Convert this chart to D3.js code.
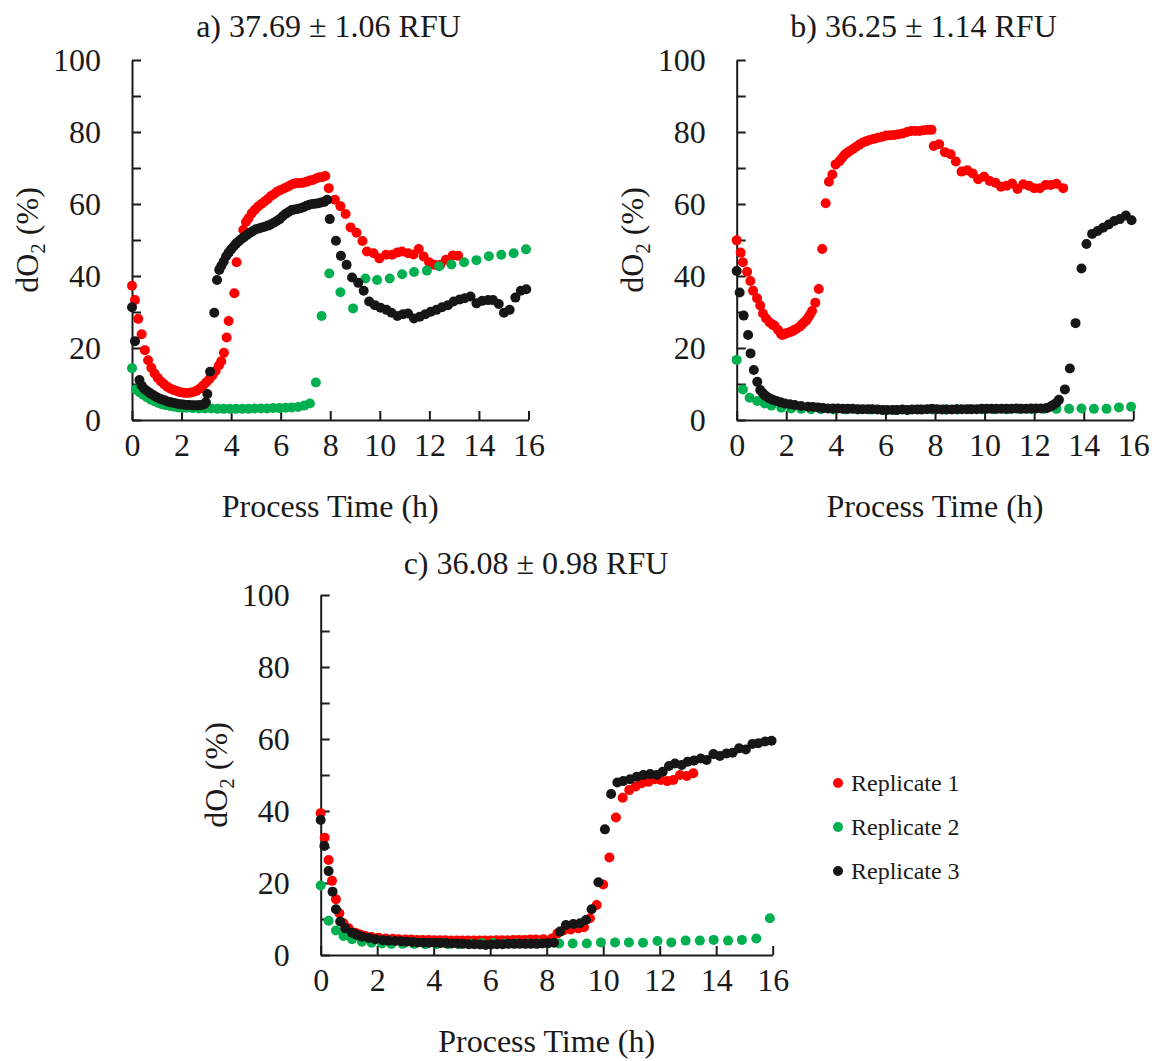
<!DOCTYPE html>
<html>
<head>
<meta charset="utf-8">
<script src="https://cdn.jsdelivr.net/npm/d3@7"></script>
<style>
body { margin: 0; background: #fff; }
text { font-family: "Liberation Serif", "Times New Roman", serif; fill: #1a1a1a; }
</style>
</head>
<body>
<svg id="chart" width="1158" height="1061"></svg>
<script>
// series names / colours
var seriesNames = ["Replicate 1", "Replicate 2", "Replicate 3"];
var seriesColors = ["#ff0000", "#00b050", "#161616"];
var panelTitles = ["a) 37.69 \u00b1 1.06 RFU", "b) 36.25 \u00b1 1.14 RFU", "c) 36.08 \u00b1 0.98 RFU"];
var xTicks = [0, 2, 4, 6, 8, 10, 12, 14, 16];
var yTicks = [0, 10, 20, 30, 40, 50, 60, 70, 80, 90, 100];

// panel a  [time h, dO2 %]
var aRep1 = [[0,37.3],[0.12,33.3],[0.25,28.1],[0.39,23.8],[0.52,19.4],[0.65,16.6],[0.78,14.5],[0.91,12.9],[1.04,11.7],[1.17,10.7],[1.3,9.9],[1.43,9.2],[1.56,8.7],[1.69,8.3],[1.82,8.0],[1.95,7.7],[2.08,7.6],[2.21,7.5],[2.34,7.6],[2.47,7.8],[2.6,8.1],[2.73,8.7],[2.86,9.5],[2.99,10.4],[3.12,11.3],[3.25,12.4],[3.38,13.7],[3.51,15.2],[3.6,16.3],[3.71,18.7],[3.82,22.9],[3.9,27.5],[4.13,35.2],[4.22,43.8],[4.49,52.8],[4.6,55.0],[4.7,56.0],[4.83,57.4],[4.96,58.4],[5.09,59.3],[5.22,60.0],[5.35,60.7],[5.48,61.4],[5.61,62.2],[5.74,62.8],[5.87,63.5],[6.0,63.9],[6.13,64.3],[6.26,64.7],[6.39,65.2],[6.52,65.6],[6.65,65.8],[6.78,65.8],[6.91,65.9],[7.04,66.2],[7.17,66.5],[7.3,66.7],[7.43,67.1],[7.56,67.4],[7.69,67.5],[7.8,67.8],[7.94,64.4],[8.19,61.2],[8.41,59.4],[8.62,57.2],[8.82,53.5],[9.06,52.0],[9.3,49.7],[9.48,46.8],[9.75,46.3],[9.98,44.9],[10.25,45.9],[10.5,45.9],[10.7,46.5],[10.89,46.8],[11.14,46.3],[11.36,46.0],[11.57,47.5],[11.77,45.4],[11.99,43.8],[12.2,43.1],[12.44,43.1],[12.67,44.5],[12.94,45.7],[13.16,45.6]];
var aRep2 = [[0,14.4],[0.16,8.5],[0.3,7.7],[0.45,7.0],[0.6,6.3],[0.75,5.7],[0.9,5.2],[1.05,4.8],[1.2,4.4],[1.36,4.1],[1.53,3.9],[1.7,3.7],[1.87,3.5],[2.03,3.4],[2.2,3.4],[2.45,3.3],[2.7,3.2],[2.95,3.2],[3.2,3.2],[3.45,3.1],[3.7,3.1],[3.95,3.1],[4.2,3.1],[4.45,3.1],[4.7,3.1],[4.95,3.2],[5.2,3.2],[5.45,3.2],[5.7,3.3],[5.95,3.3],[6.2,3.4],[6.45,3.5],[6.7,3.6],[6.95,4.0],[7.18,4.6],[7.42,10.4],[7.65,28.9],[7.96,40.7],[8.41,35.5],[8.92,31.0],[9.42,39.3],[9.89,38.9],[10.4,39.3],[10.9,40.5],[11.38,41.1],[11.9,41.5],[12.39,42.7],[12.89,43.2],[13.4,43.8],[13.9,44.4],[14.4,45.5],[14.9,45.9],[15.4,46.3],[15.9,47.4]];
var aRep3 = [[0,31.3],[0.12,21.9],[0.3,11.1],[0.39,9.6],[0.5,8.6],[0.62,8.0],[0.74,7.4],[0.86,6.9],[0.98,6.4],[1.1,6.0],[1.22,5.7],[1.34,5.4],[1.46,5.1],[1.58,4.9],[1.7,4.7],[1.82,4.5],[1.94,4.4],[2.06,4.3],[2.18,4.2],[2.3,4.2],[2.42,4.1],[2.54,4.1],[2.66,4.1],[2.78,4.2],[2.9,4.3],[2.98,4.9],[3.04,7.2],[3.15,13.4],[3.32,29.8],[3.43,38.9],[3.52,41.7],[3.6,42.8],[3.7,44.0],[3.8,45.5],[3.9,46.5],[4.0,47.4],[4.1,48.2],[4.2,49.0],[4.3,49.6],[4.4,50.2],[4.52,50.8],[4.64,51.4],[4.76,52.0],[4.88,52.5],[5.0,53.0],[5.12,53.2],[5.24,53.5],[5.36,53.7],[5.48,54.0],[5.6,54.3],[5.72,54.8],[5.84,55.3],[5.96,55.8],[6.08,56.6],[6.2,57.3],[6.32,57.8],[6.44,58.3],[6.56,58.5],[6.68,58.6],[6.8,58.8],[6.92,59.1],[7.04,59.5],[7.16,59.8],[7.28,60.0],[7.4,60.1],[7.52,60.2],[7.64,60.4],[7.76,60.6],[7.88,61.2],[7.98,55.8],[8.23,49.8],[8.43,45.6],[8.66,43.1],[8.88,39.6],[9.13,38.1],[9.35,35.9],[9.57,32.9],[9.8,31.9],[10.03,31.2],[10.27,30.6],[10.47,29.8],[10.71,28.9],[10.94,29.4],[11.14,29.6],[11.38,28.2],[11.61,28.7],[11.84,29.4],[12.06,30.1],[12.29,30.6],[12.51,31.3],[12.75,31.9],[12.98,32.9],[13.23,33.5],[13.43,33.8],[13.66,34.3],[13.9,32.4],[14.13,33.1],[14.37,33.3],[14.57,33.3],[14.8,32.2],[15.01,29.8],[15.24,30.6],[15.47,34.0],[15.69,35.9],[15.91,36.3]];

// panel b
var bRep1 = [[0,49.9],[0.16,46.5],[0.25,43.8],[0.42,41.2],[0.55,38.6],[0.66,35.9],[0.82,33.8],[0.95,31.8],[1.06,29.6],[1.19,28.2],[1.33,27.1],[1.45,26.5],[1.53,26.2],[1.67,25.0],[1.78,24.0],[1.84,23.6],[1.92,23.8],[2.0,24.1],[2.1,24.3],[2.2,24.5],[2.3,24.9],[2.4,25.3],[2.54,25.9],[2.62,26.5],[2.71,27.1],[2.8,27.6],[2.88,28.4],[2.96,29.3],[3.04,30.3],[3.17,32.6],[3.31,36.4],[3.45,47.5],[3.59,60.2],[3.72,66.2],[3.86,68.2],[3.99,71.0],[4.15,71.9],[4.25,72.8],[4.35,73.6],[4.45,74.2],[4.56,74.7],[4.69,75.3],[4.82,75.9],[4.95,76.5],[5.09,77.1],[5.22,77.4],[5.36,77.8],[5.53,78.1],[5.7,78.4],[5.87,78.7],[6.03,79.0],[6.2,79.1],[6.37,79.2],[6.54,79.4],[6.71,79.6],[6.88,80.0],[7.04,80.3],[7.21,80.3],[7.38,80.3],[7.55,80.5],[7.71,80.6],[7.86,80.6],[7.95,76.1],[8.17,76.6],[8.4,74.4],[8.63,73.8],[8.84,71.8],[9.07,69.0],[9.3,69.4],[9.52,68.5],[9.74,66.9],[9.98,67.6],[10.21,66.4],[10.44,65.9],[10.66,64.8],[10.89,65.1],[11.11,65.7],[11.33,64.2],[11.56,65.5],[11.79,65.1],[12.0,64.4],[12.23,64.4],[12.46,65.3],[12.67,65.3],[12.9,65.6],[13.17,64.4]];
var bRep2 = [[0,16.7],[0.25,8.5],[0.52,6.2],[0.83,5.3],[1.13,4.6],[1.4,4.0],[1.8,3.4],[2.2,3.2],[2.6,3.1],[3.0,3.0],[3.4,3.0],[3.9,2.9],[4.4,2.9],[4.9,2.9],[5.4,2.9],[5.9,2.8],[6.4,2.8],[6.9,2.8],[7.4,2.9],[7.9,2.9],[8.4,2.9],[8.9,2.9],[9.4,3.0],[9.9,3.0],[10.4,3.0],[10.9,3.0],[11.4,3.1],[11.9,3.0],[12.4,3.1],[12.9,3.1],[13.41,3.1],[13.91,3.2],[14.41,3.1],[14.92,3.1],[15.42,3.5],[15.91,3.7]];
var bRep3 = [[0,41.4],[0.12,35.4],[0.28,29.0],[0.46,23.6],[0.56,18.5],[0.69,13.9],[0.83,10.6],[0.95,8.3],[1.05,7.5],[1.13,6.9],[1.23,6.4],[1.33,6.0],[1.46,5.6],[1.6,5.3],[1.77,4.9],[1.94,4.6],[2.14,4.4],[2.34,4.2],[2.6,3.9],[2.88,3.7],[3.08,3.6],[3.28,3.5],[3.48,3.3],[3.68,3.2],[3.88,3.2],[4.08,3.2],[4.28,3.1],[4.48,3.1],[4.68,3.1],[4.88,3.0],[5.08,3.0],[5.28,3.0],[5.48,3.0],[5.68,2.9],[5.88,2.8],[6.08,2.8],[6.28,2.8],[6.48,2.8],[6.68,2.9],[6.88,2.8],[7.08,2.9],[7.28,2.9],[7.48,2.9],[7.68,3.0],[7.88,3.1],[8.08,3.0],[8.28,2.9],[8.48,2.9],[8.68,2.9],[8.88,3.0],[9.08,3.0],[9.28,3.0],[9.48,3.0],[9.68,3.0],[9.88,3.1],[10.08,3.1],[10.28,3.1],[10.48,3.1],[10.68,3.1],[10.88,3.1],[11.08,3.1],[11.28,3.2],[11.48,3.1],[11.68,3.1],[11.88,3.2],[12.08,3.2],[12.28,3.2],[12.5,3.3],[12.65,3.7],[12.77,4.2],[12.9,4.8],[13.0,5.6],[13.24,8.5],[13.44,14.3],[13.67,26.9],[13.91,42.1],[14.11,48.9],[14.34,51.7],[14.56,52.5],[14.78,53.4],[15.01,54.3],[15.23,55.3],[15.46,55.8],[15.7,56.8],[15.93,55.5]];

// panel c
var cRep1 = [[0,39.4],[0.14,32.6],[0.28,26.4],[0.4,20.6],[0.54,15.5],[0.66,11.6],[0.81,8.8],[0.99,7.4],[1.23,6.2],[1.4,5.7],[1.58,5.3],[1.8,5.0],[2.05,4.8],[2.3,4.6],[2.55,4.5],[2.76,4.4],[3.0,4.3],[3.2,4.3],[3.4,4.2],[3.6,4.2],[3.82,4.2],[4.02,4.1],[4.22,4.1],[4.42,4.1],[4.62,4.0],[4.82,4.0],[5.02,4.0],[5.22,4.0],[5.42,4.0],[5.62,4.0],[5.82,4.0],[6.02,4.0],[6.22,4.1],[6.42,4.1],[6.62,4.1],[6.82,4.2],[7.02,4.2],[7.22,4.2],[7.42,4.3],[7.62,4.3],[7.88,4.4],[8.18,4.6],[8.38,6.0],[8.59,6.8],[8.85,7.1],[9.12,7.4],[9.32,7.7],[9.53,10.2],[9.77,13.9],[10.0,19.6],[10.22,27.1],[10.45,38.2],[10.69,43.7],[10.92,45.8],[11.15,46.8],[11.36,47.7],[11.6,48.1],[11.83,48.8],[12.04,48.6],[12.27,48.3],[12.48,48.6],[12.72,50.0],[12.96,49.7],[13.19,50.5]];
var cRep2 = [[0,19.3],[0.28,9.5],[0.54,6.8],[0.81,5.3],[1.11,4.4],[1.46,3.7],[1.8,3.4],[2.17,3.2],[2.5,3.1],[2.9,3.1],[3.3,3.1],[3.7,3.0],[4.1,3.0],[4.5,3.0],[4.9,3.0],[5.3,3.1],[5.7,3.3],[6.1,3.3],[6.5,3.2],[6.9,3.2],[7.3,3.2],[7.7,3.2],[8.05,3.2],[8.44,3.2],[8.92,3.2],[9.42,3.2],[9.92,3.5],[10.42,3.5],[10.91,3.5],[11.41,3.4],[11.92,3.9],[12.41,3.5],[12.92,4.0],[13.42,4.0],[13.91,4.2],[14.42,4.0],[14.91,4.2],[15.42,4.6],[15.9,10.2]];
var cRep3 = [[0,37.5],[0.13,30.3],[0.28,23.3],[0.42,17.6],[0.54,12.7],[0.69,9.3],[0.87,7.4],[1.11,6.2],[1.28,5.6],[1.46,5.1],[1.7,4.7],[1.93,4.4],[2.2,4.1],[2.4,4.0],[2.64,3.9],[2.84,3.8],[3.04,3.7],[3.24,3.6],[3.44,3.5],[3.64,3.5],[3.84,3.4],[4.04,3.4],[4.24,3.3],[4.44,3.3],[4.64,3.2],[4.84,3.2],[5.04,3.1],[5.24,3.0],[5.44,3.0],[5.64,2.9],[5.84,2.8],[6.04,2.9],[6.24,3.0],[6.44,3.0],[6.64,3.1],[6.84,3.1],[7.04,3.1],[7.24,3.1],[7.44,3.1],[7.64,3.1],[7.84,3.2],[8.04,3.3],[8.26,3.4],[8.47,6.5],[8.68,8.3],[8.94,8.6],[9.18,8.8],[9.39,9.7],[9.59,12.7],[9.83,20.2],[10.06,34.9],[10.28,44.7],[10.5,47.9],[10.71,48.3],[10.95,48.8],[11.19,49.5],[11.42,50.0],[11.66,50.3],[11.89,50.0],[12.11,50.9],[12.33,52.5],[12.54,53.2],[12.78,52.8],[12.99,53.7],[13.21,54.0],[13.45,54.6],[13.66,54.2],[13.9,55.8],[14.13,55.3],[14.37,56.0],[14.58,56.2],[14.81,57.4],[15.05,57.1],[15.28,58.6],[15.49,58.8],[15.73,59.3],[15.96,59.5]];

var svg = d3.select('#chart');
var fontSize = 32;
var dotR = 5;

var panels = [
	{ left: 132, right: 528.5, top: 60, bottom: 420, titleX: 328.5, titleY: 37, title: panelTitles[0], series: [aRep1, aRep2, aRep3] },
	{ left: 736.7, right: 1133.3, top: 60, bottom: 420, titleX: 923.5, titleY: 37, title: panelTitles[1], series: [bRep1, bRep2, bRep3] },
	{ left: 320.7, right: 772.7, top: 595, bottom: 955, titleX: 536, titleY: 574, title: panelTitles[2], series: [cRep1, cRep2, cRep3] }
];

function drawPanel(p) {
	var x = d3.scaleLinear().domain([0, 16]).range([p.left, p.right]);
	var y = d3.scaleLinear().domain([0, 100]).range([p.bottom, p.top]);
	var g = svg.append('g');

	var xAxis = g.append('g')
		.attr('transform', 'translate(0,' + p.bottom + ')')
		.call(d3.axisBottom(x).tickValues(xTicks).tickSize(-9).tickSizeOuter(0).tickPadding(13));

	var yAxis = g.append('g')
		.attr('transform', 'translate(' + p.left + ',0)')
		.call(d3.axisLeft(y).tickValues(yTicks).tickSize(-9).tickSizeOuter(0).tickPadding(31)
			.tickFormat(function(d) { return d % 20 === 0 ? d : ''; }));

	[xAxis, yAxis].forEach(function(ax) {
		ax.attr('font-family', null).attr('font-size', fontSize);
		ax.select('.domain').attr('stroke', '#1a1a1a').attr('stroke-width', 2);
		ax.selectAll('.tick line').attr('stroke', '#1a1a1a').attr('stroke-width', 2);
		ax.selectAll('.tick text').attr('fill', '#1a1a1a');
	});

	// title
	g.append('text')
		.attr('x', p.titleX)
		.attr('y', p.titleY)
		.attr('text-anchor', 'middle')
		.attr('font-size', fontSize)
		.text(p.title);

	// x label
	g.append('text')
		.attr('x', (p.left + p.right) / 2)
		.attr('y', p.bottom + 97)
		.attr('text-anchor', 'middle')
		.attr('font-size', fontSize)
		.text('Process Time (h)');

	// y label
	var yl = g.append('text')
		.attr('transform', 'translate(' + (p.left - 94) + ',' + ((p.top + p.bottom) / 2) + ') rotate(-90)')
		.attr('text-anchor', 'middle')
		.attr('font-size', fontSize);
	yl.append('tspan').text('dO');
	yl.append('tspan').attr('font-size', 21).attr('dy', 7).text('2');
	yl.append('tspan').attr('dy', -7).text(' (%)');

	// points
	p.series.forEach(function(s, i) {
		g.append('g')
			.selectAll('circle')
			.data(s)
			.enter()
			.append('circle')
			.attr('cx', function(d) { return x(d[0]); })
			.attr('cy', function(d) { return y(d[1]); })
			.attr('r', dotR)
			.attr('fill', seriesColors[i]);
	});
}

panels.forEach(drawPanel);

// legend
var legend = svg.append('g').attr('transform', 'translate(838,783)');
legend.selectAll('circle')
	.data(seriesNames)
	.enter()
	.append('circle')
	.attr('cx', 0)
	.attr('cy', function(d, i) { return i * 44; })
	.attr('r', dotR)
	.attr('fill', function(d, i) { return seriesColors[i]; });
legend.selectAll('text')
	.data(seriesNames)
	.enter()
	.append('text')
	.attr('x', 13)
	.attr('y', function(d, i) { return i * 44 + 8; })
	.attr('font-size', 24)
	.text(function(d) { return d; });
</script>
</body>
</html>
